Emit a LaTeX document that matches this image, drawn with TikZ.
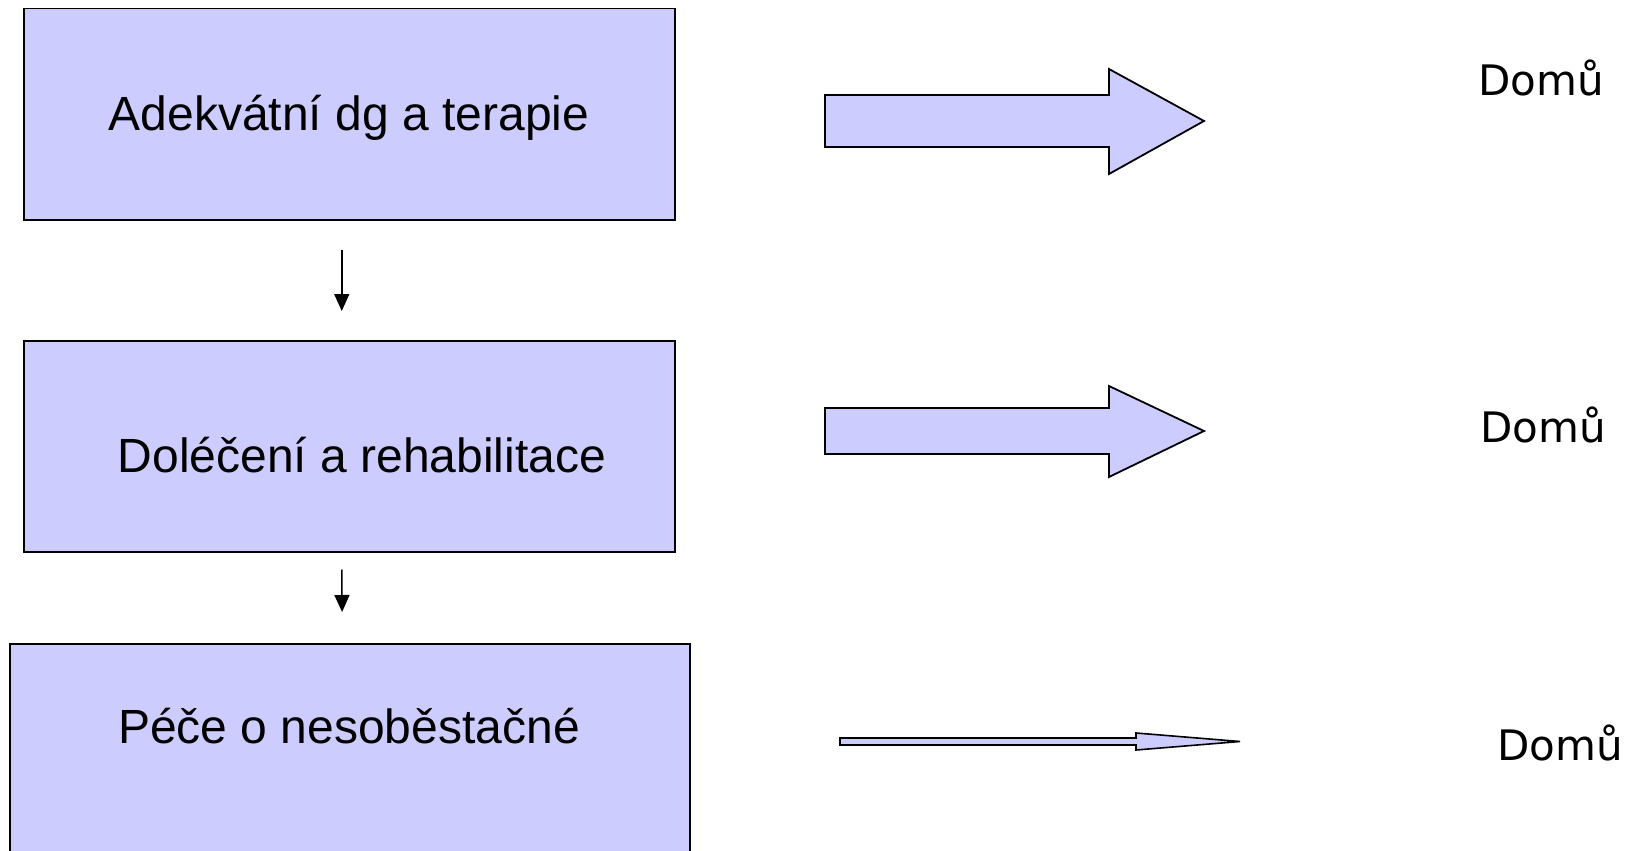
\documentclass[tikz,border=0pt]{standalone}
\usepackage{fontspec}
\setmainfont{Liberation Sans}
\newfontfamily\labfont{DejaVu Sans}
\usetikzlibrary{arrows.meta}
\definecolor{boxfill}{HTML}{CCCCFF}
\tikzset{
  stagebox/.style={draw=black, line width=1.5pt, fill=boxfill, inner sep=0pt, anchor=north west},
  stagetext/.style={font=\fontsize{48}{56}\selectfont, inner sep=0pt},
  homelabel/.style={font=\labfont\fontsize{42}{48}\selectfont, inner sep=0pt},
  blockarrow/.style={draw=black, line width=1.8pt, fill=boxfill, line join=miter},
  flowarrow/.style={line width=1.5pt, -{Triangle[width=15pt,length=17pt]}}
}
\begin{document}
\begin{tikzpicture}[x=1pt, y=-1pt]
\useasboundingbox (0,0) rectangle (1634,851);
\clip (0,0) rectangle (1634,851);

% stage boxes
\node[stagebox, minimum width=651pt, minimum height=211pt] (b1) at (23,8) {};
\node[stagebox, minimum width=651pt, minimum height=211pt] (b2) at (23,340) {};
\node[stagebox, minimum width=680pt, minimum height=230pt] (b3) at (9,643) {};

\node[stagetext] (t1) at (349,118) {Adekvátní dg a terapie};
\node[stagetext] (t2) at (362,455) {Doléčení a rehabilitace};
\node[stagetext] (t3) at (349,726) {Péče o nesoběstačné};

% flow between stages
\draw[flowarrow, shorten <=29pt, shorten >=29pt] ([xshift=-7.5pt]b1.south) -- ([xshift=-7.5pt]b2.north);
\draw[flowarrow, shorten <=17pt, shorten >=31pt] ([xshift=-7.5pt]b2.south) -- ([xshift=-7.5pt]b3.north);

% exits home
\node[homelabel] (h1) at (1541,78) {Domů};
\node[homelabel] (h2) at (1543,425) {Domů};
\node[homelabel] (h3) at (1560,743) {Domů};

\draw[blockarrow] (825,95) -- (1109,95) -- (1109,69) -- (1204,121) -- (1109,174) -- (1109,147) -- (825,147) -- cycle;
\draw[blockarrow] (825,408) -- (1109,408) -- (1109,386) -- (1204,431) -- (1109,477) -- (1109,454) -- (825,454) -- cycle;
\draw[blockarrow, line width=1.6pt] (840,738) -- (1136,738) -- (1136,733) -- (1240,741.5) -- (1136,750) -- (1136,745) -- (840,745) -- cycle;
\end{tikzpicture}
\end{document}
